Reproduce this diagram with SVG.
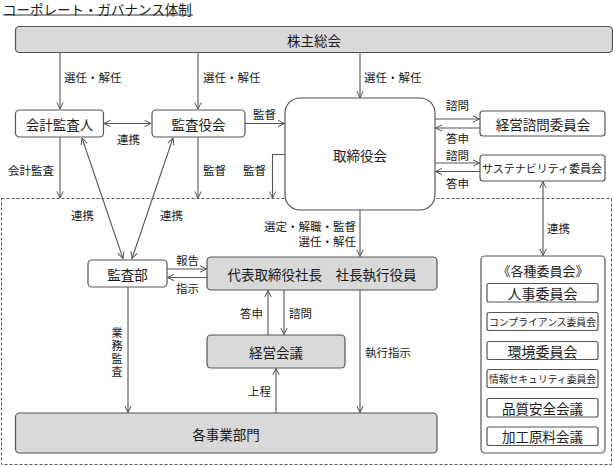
<svg xmlns="http://www.w3.org/2000/svg" width="613" height="467" viewBox="0 0 613 467">
<style>
text{font-family:"Noto Sans CJK JP","Noto Sans",sans-serif;fill:#1a1a1a;}
.t{font-size:13.5px;text-anchor:middle;dominant-baseline:central;}
.s{font-size:11.5px;dominant-baseline:central;}
.v{font-size:11px;writing-mode:vertical-rl;letter-spacing:2px;}
.g{fill:#d9d9d9;stroke:#555;stroke-width:1.2;}
.w{fill:#fff;stroke:#555;stroke-width:1.2;}
.l{stroke:#555;stroke-width:1.1;fill:none;}
.a{marker-end:url(#ah);}
.b{marker-start:url(#ah2);marker-end:url(#ah);}
</style>
<defs>
<marker id="ah" viewBox="0 0 8 8" refX="7.5" refY="4" markerWidth="8" markerHeight="8" markerUnits="userSpaceOnUse" orient="auto"><path d="M1,0.8 L7.5,4 L1,7.2" fill="none" stroke="#555" stroke-width="1"/></marker>
<marker id="ah2" viewBox="0 0 8 8" refX="0.5" refY="4" markerWidth="8" markerHeight="8" markerUnits="userSpaceOnUse" orient="auto"><path d="M7,0.8 L0.5,4 L7,7.2" fill="none" stroke="#555" stroke-width="1"/></marker>
</defs>
<rect width="613" height="467" fill="#fff"/>

<g id="title">
<text x="3" y="8.5" style="font-size:13.5px;dominant-baseline:central;">コーポレート・ガバナンス体制</text>
<line x1="3" y1="15" x2="193" y2="15" stroke="#333" stroke-width="1"/>
</g>

<rect id="frame" x="1.5" y="198.5" width="610" height="266" fill="none" stroke="#555" stroke-width="1" stroke-dasharray="3,2"/>

<g id="connectors">
<line class="l a" x1="60" y1="52" x2="60" y2="109"/>
<line class="l a" x1="198" y1="52" x2="198" y2="109"/>
<line class="l a" x1="360" y1="52" x2="360" y2="97.5"/>
<line class="l b" x1="104" y1="123.5" x2="151" y2="123.5"/>
<line class="l a" x1="245" y1="123.5" x2="284.5" y2="123.5"/>
<polyline class="l a" points="285,154.5 272.5,154.5 272.5,198"/>
<line class="l a" x1="198" y1="137" x2="198" y2="198"/>
<line class="l a" x1="60" y1="137" x2="60" y2="198"/>
<line class="l b" x1="82" y1="138" x2="123" y2="258.5"/>
<line class="l b" x1="173" y1="138" x2="132" y2="258.5"/>
<line class="l a" x1="435" y1="119" x2="479.5" y2="119"/>
<line class="l a" x1="480" y1="128" x2="435.5" y2="128"/>
<line class="l a" x1="435" y1="163" x2="479.5" y2="163"/>
<line class="l a" x1="480" y1="171.5" x2="435.5" y2="171.5"/>
<line class="l b" x1="543" y1="181.5" x2="543" y2="255.5"/>
<line class="l a" x1="360" y1="210" x2="360" y2="256.5"/>
<line class="l a" x1="167" y1="269" x2="206.5" y2="269"/>
<line class="l a" x1="207" y1="277.5" x2="167.5" y2="277.5"/>
<line class="l a" x1="268" y1="335" x2="268" y2="290.5"/>
<line class="l a" x1="284" y1="290" x2="284" y2="334.5"/>
<line class="l a" x1="360" y1="290" x2="360" y2="412.5"/>
<line class="l a" x1="276" y1="413" x2="276" y2="368.5"/>
<line class="l a" x1="128" y1="287" x2="128" y2="412.5"/>
</g>

<g id="labels">
<text class="s" x="64" y="77">選任・解任</text>
<text class="s" x="203" y="77">選任・解任</text>
<text class="s" x="364" y="77">選任・解任</text>
<text class="s" x="117" y="138.5">連携</text>
<text class="s" x="253" y="114">監督</text>
<text class="s" x="8" y="169.5">会計監査</text>
<text class="s" x="203" y="169.5">監督</text>
<text class="s" x="243" y="169.5">監督</text>
<text class="s" x="71" y="215">連携</text>
<text class="s" x="160" y="215">連携</text>
<text class="s" x="446" y="105">諮問</text>
<text class="s" x="446" y="137.5">答申</text>
<text class="s" x="446" y="154.5">諮問</text>
<text class="s" x="446" y="183">答申</text>
<text class="s" x="547" y="228">連携</text>
<text class="s" x="356" y="226" text-anchor="end">選定・解職・監督</text>
<text class="s" x="356" y="241" text-anchor="end">選任・解任</text>
<text class="s" x="176" y="259.5">報告</text>
<text class="s" x="176" y="288">指示</text>
<text class="s" x="240" y="313">答申</text>
<text class="s" x="289" y="313">諮問</text>
<text class="s" x="365" y="352">執行指示</text>
<text class="s" x="248" y="391">上程</text>
<text class="v" x="117" y="327.5">業務監査</text>
</g>

<g id="shareholders">
<rect class="g" x="15.5" y="26.5" width="597" height="26" rx="4"/>
<text class="t" x="314" y="39.5">株主総会</text>
</g>
<g id="auditor">
<rect class="w" x="15.5" y="110" width="88" height="27" rx="4"/>
<text class="t" x="59.5" y="123.5">会計監査人</text>
</g>
<g id="audit-board">
<rect class="w" x="152" y="110" width="93" height="27" rx="4"/>
<text class="t" x="198.5" y="123.5">監査役会</text>
</g>
<g id="board">
<rect class="w" x="285" y="98" width="150" height="112" rx="15"/>
<text class="t" x="360" y="155">取締役会</text>
</g>
<g id="advisory">
<rect class="w" x="480" y="111" width="125" height="25" rx="3"/>
<text class="t" x="543" y="123.5">経営諮問委員会</text>
</g>
<g id="sustainability">
<rect class="w" x="480" y="155" width="125" height="26" rx="3"/>
<text class="t" x="542" y="168" style="font-size:11px">サステナビリティ委員会</text>
</g>
<g id="internal-audit">
<rect class="w" x="88" y="260" width="79" height="27" rx="4"/>
<text class="t" x="127.5" y="273.5">監査部</text>
</g>
<g id="president">
<rect class="g" x="207" y="257" width="230" height="33" rx="4"/>
<text class="t" x="322" y="273.5">代表取締役社長　社長執行役員</text>
</g>
<g id="management">
<rect class="g" x="207" y="335" width="138" height="33" rx="4"/>
<text class="t" x="276" y="351.5">経営会議</text>
</g>
<g id="divisions">
<rect class="g" x="15.5" y="413" width="421.5" height="40" rx="4"/>
<text class="t" x="226" y="433.5">各事業部門</text>
</g>
<g id="committees">
<rect class="w" x="481" y="256" width="124" height="197" rx="4"/>
<text class="t" x="543" y="270" style="font-size:13px">《各種委員会》</text>
<rect class="w" x="487" y="283.5" width="111" height="18.5" rx="2"/>
<text class="t" x="542.5" y="292.5" style="font-size:14px">人事委員会</text>
<rect class="w" x="487" y="312.5" width="111" height="18" rx="2"/>
<text class="t" x="542.5" y="321.5" style="font-size:9.8px">コンプライアンス委員会</text>
<rect class="w" x="487" y="341.5" width="111" height="18" rx="2"/>
<text class="t" x="542.5" y="350.5" style="font-size:14px">環境委員会</text>
<rect class="w" x="487" y="369.5" width="111" height="18" rx="2"/>
<text class="t" x="542.5" y="378.5" style="font-size:9.8px">情報セキュリティ委員会</text>
<rect class="w" x="487" y="398.5" width="111" height="18.5" rx="2"/>
<text class="t" x="542.5" y="407.5">品質安全会議</text>
<rect class="w" x="487" y="427" width="111" height="18.5" rx="2"/>
<text class="t" x="542.5" y="436">加工原料会議</text>
</g>
</svg>
